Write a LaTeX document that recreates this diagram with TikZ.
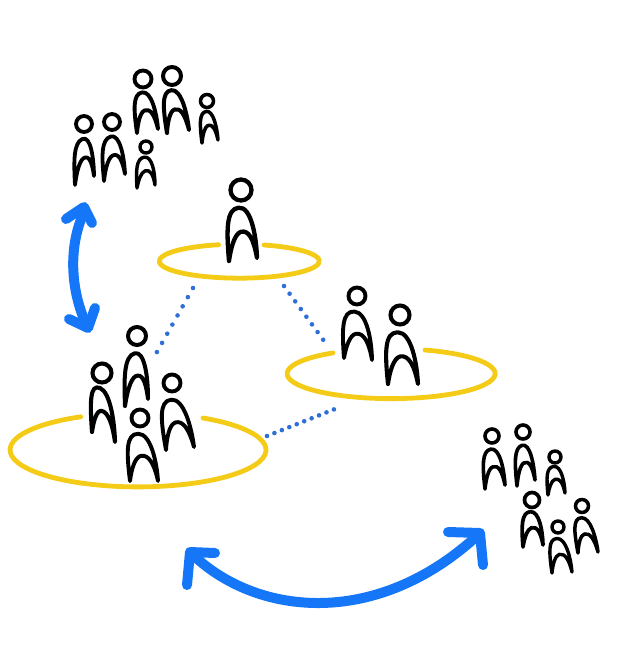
\documentclass[tikz,border=0pt]{standalone}
\usepackage{amsmath}
\usetikzlibrary{arrows.meta,calc}
\definecolor{ringyellow}{HTML}{F4CB16}
\definecolor{linkblue}{HTML}{2F6FD8}
\definecolor{swapblue}{HTML}{1577F7}
\tikzset{
  ring/.style={ringyellow,line width=4.8pt,line cap=round},
  link/.style={linkblue,line width=4.6pt,line cap=round,dash pattern=on 0pt off #1},
  swap/.style={swapblue,line width=10pt,line cap=round},
  barb/.style={swapblue,line width=10pt,line cap=round,line join=round}
}
% head x, head y, head radius, left foot x y, right foot x y
\def\person#1#2#3#4#5#6#7{
  \pgfmathsetmacro\ux{(#6-#4)/2}
  \pgfmathsetmacro\uy{-(#7-#5)/2}
  \pgfmathsetmacro\vx{(#4+#6)/2-#1}
  \pgfmathsetmacro\vy{-((#5+#7)/2-#2)}
  \pgfmathsetmacro\lw{0.2*#3+2.3}
  \draw[black,line width=\lw pt] (#1,#2) circle (#3+.5);
  \begin{scope}[shift={(#1,#2)},x={(\ux pt,\uy pt)},y={(\vx pt,\vy pt)}]
    \draw[black,line width=\lw pt,line cap=round,line join=round]
      (-1,1) .. controls (-1.12,.55) and (-1.1,.25) .. (-.2,.25)
      .. controls (.7,.25) and (1,.7) .. (1,1)
      .. controls (.8,.72) and (.45,.58) .. (-.1,.6)
      .. controls (-.55,.62) and (-.85,.82) .. (-1,1);
  \end{scope}
}
\begin{document}
\begin{tikzpicture}[x=1pt,y=-1pt]
  \useasboundingbox (0,0) rectangle (640,646);
  % rings
  \draw[ring] (264,245) arc (-72:255:80 and 17);
  \draw[ring] (425,350) arc (-71:236:104 and 25);
  \draw[ring] (203,418) arc (-59.5:243.4:128 and 37);
  % links between the rings
  \coordinate (topleft) at (193,288);
  \coordinate (leftup) at (153,359);
  \coordinate (topright) at (284,286);
  \coordinate (rightup) at (327,345);
  \coordinate (leftright) at (267,436);
  \coordinate (rightleft) at (340,407);
  \draw[link=10.5pt] (topleft)--(leftup);
  \draw[link=9.5pt] (topright)--(rightup);
  \draw[link=8pt] (leftright)--(rightleft);
  % upper group
  \person{84}{124}{7.5}{75}{185}{94}{176}
  \person{112}{122}{7.5}{104}{181}{125}{174}
  \person{143}{79}{8}{137}{133}{158}{129}
  \person{172}{76}{8.5}{167}{133}{189}{130}
  \person{207}{101}{6}{202}{143}{218}{140}
  \person{146}{147}{5.5}{137}{188}{155}{185}
  % people on the rings
  \person{241}{190}{10}{229}{261}{257}{258}
  \person{357}{296}{8}{344}{358}{372}{360}
  \person{400}{315}{9}{388}{384}{418}{384}
  \person{102}{373}{9}{92}{432}{115}{442}
  \person{137}{336}{8.5}{125}{406}{148}{399}
  \person{172}{383}{8}{166}{450}{194}{447}
  \person{140}{418}{8}{130}{481}{158}{481}
  % lower group
  \person{492}{436}{6.5}{485}{489}{505}{485}
  \person{523}{432}{6.5}{517}{486}{535}{480}
  \person{555}{457}{5.5}{548}{495}{565}{493}
  \person{532}{500}{7}{523}{547}{543}{545}
  \person{558}{527}{5.5}{552}{573}{572}{572}
  \person{582}{506}{6}{578}{553}{598}{552}
  % swap arrows
  \coordinate (upstart) at (85,210);
  \coordinate (upend) at (87,326);
  \draw[swap] (upstart) .. controls (68,245) and (70,290) .. (upend);
  \draw[barb] (66,219)--(84,207)--(92,223);
  \draw[barb] (69,319)--(88,328)--(95,308);
  \coordinate (lowstart) at (192,554);
  \coordinate (lowend) at (478,535);
  \draw[swap] (lowstart) .. controls (255,615) and (375,630) .. (lowend);
  \draw[barb] (215,553)--(190,552)--(187,585);
  \draw[barb] (448,532)--(480,533)--(483,565);
\end{tikzpicture}
\end{document}
